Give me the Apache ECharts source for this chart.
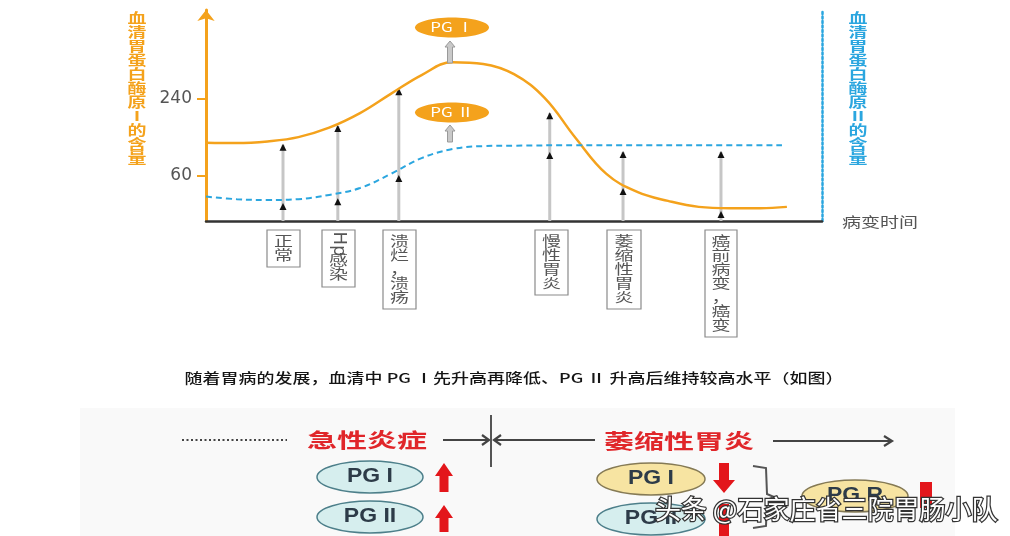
<!DOCTYPE html>
<html><head><meta charset="utf-8">
<script src="https://cdn.jsdelivr.net/npm/echarts@6/dist/echarts.min.js"></script>
<style>html,body{margin:0;padding:0;background:#fff}#c{width:1010px;height:536px}</style>
</head><body><div id="c"></div>
<script>
// ---- data ----
const stageNames = ['正常', 'Hp感染', '溃烂，溃疡', '慢性胃炎', '萎缩性胃炎', '癌前病变，癌变'];
const stageX = [12.5, 21.4, 31.3, 55.8, 67.7, 83.6];
const stemTop = [133, 177, 263, 207, 116, 116];
const stemLow = [-5, 6, 60, 114, 30, -24];
const pg1X = [0, 5, 10, 15, 20, 25, 30, 35, 40, 45, 50, 55, 60, 65, 70, 75, 80, 85, 90, 94.3];
const pg1Y = [138, 137, 141, 151, 173, 207, 252, 296, 326, 322, 298, 242, 149, 65, 23, 2, -12, -15, -15, -12];
const pg2X = [0, 5, 10, 15, 20, 25, 30, 35, 40, 45, 50, 60, 70, 80, 93.5];
const pg2Y = [12, 6, 4, 6, 16, 32, 65, 102, 123, 130, 131, 132, 132, 132, 132];
const yTicks = [60, 240];
const leftTitle = '血清胃蛋白酶原Ⅰ的含量';
const rightTitle = '血清胃蛋白酶原Ⅱ的含量';
const xTitle = '病变时间';
const caption = '随着胃病的发展，血清中 PG Ⅰ先升高再降低、PG Ⅱ 升高后维持较高水平（如图）';
const phaseNames = ['急性炎症', '萎缩性胃炎'];

// ---- layout / style ----
const Y_MIN = -45, Y_MAX = 448;
const ORANGE = '#f4a21c', BLUE = '#2ba6df';
const CJK = '"Noto Sans CJK SC", sans-serif';

const chart = echarts.init(document.getElementById('c'));

function vText(cx, top, str, fs, lh, sy, fill, extra) {
  const chars = Array.from(str).join('\n');
  return {
    type: 'text', x: cx, y: top, scaleY: sy, z: 100,
    style: Object.assign({ text: chars, fontSize: fs, lineHeight: lh, fontFamily: CJK, fill: fill,
      textAlign: 'center', textVerticalAlign: 'top' }, extra || {})
  };
}
function hText(x, y, str, fs, sy, fill, opts) {
  return {
    type: 'text', x: x, y: y, scaleY: sy, z: 100,
    style: Object.assign({ text: str, fontSize: fs, fontFamily: CJK, fill: fill,
      textAlign: 'center', textVerticalAlign: 'middle' }, opts || {})
  };
}
function ellipse(cx, cy, rx, ry, fill, stroke) {
  return { type: 'ellipse', z: 90, shape: { cx: cx, cy: cy, rx: rx, ry: ry },
    style: { fill: fill, stroke: stroke || null, lineWidth: stroke ? 1.5 : 0 } };
}
function grayUp(x, y1, y2) {
  return { type: 'polygon', z: 90, shape: { points: [[x, y1], [x - 5, y1 + 6], [x - 2.5, y1 + 6], [x - 2.5, y2], [x + 2.5, y2], [x + 2.5, y1 + 6], [x + 5, y1 + 6]] },
    style: { fill: '#c9c9c9', stroke: '#9a9a9a', lineWidth: 1 } };
}
function redUp(x, y1, y2) {
  return { type: 'polygon', z: 90, shape: { points: [[x, y1], [x - 9, y1 + 13], [x - 4.5, y1 + 13], [x - 4.5, y2], [x + 4.5, y2], [x + 4.5, y1 + 13], [x + 9, y1 + 13]] },
    style: { fill: '#e3161b' } };
}
function redDown(x, y1, y2) {
  return { type: 'polygon', z: 90, shape: { points: [[x - 5, y1], [x + 5, y1], [x + 5, y2 - 13], [x + 11, y2 - 13], [x, y2], [x - 11, y2 - 13], [x - 5, y2 - 13]] },
    style: { fill: '#e3161b' } };
}
function line(x1, y1, x2, y2, stroke, w, dash) {
  return { type: 'line', z: 90, shape: { x1: x1, y1: y1, x2: x2, y2: y2 },
    style: { stroke: stroke, lineWidth: w, lineDash: dash || null } };
}
function chevron(pts) {
  return { type: 'polyline', z: 90, shape: { points: pts }, style: { stroke: '#444', lineWidth: 2.2, fill: null } };
}

// stage boxes
const boxes = [
  { x: 267, y: 230, w: 33, h: 37 },
  { x: 322, y: 230, w: 33, h: 57 },
  { x: 383, y: 230, w: 33, h: 79 },
  { x: 535, y: 230, w: 33, h: 65 },
  { x: 607, y: 230, w: 34, h: 79 },
  { x: 705, y: 230, w: 32, h: 107 }
];
const graphics = [];
// bottom faint panel
graphics.push({ type: 'rect', z: 1, shape: { x: 80, y: 408, width: 875, height: 128 }, style: { fill: '#f9f9f9' } });

boxes.forEach((b, i) => {
  graphics.push({ type: 'rect', z: 90, shape: { x: b.x, y: b.y, width: b.w, height: b.h },
    style: { fill: '#fff', stroke: '#8a8a8a', lineWidth: 1.2 } });
  const cx = b.x + b.w / 2;
  const name = stageNames[i];
  if (name.startsWith('Hp')) {
    graphics.push({ type: 'text', x: cx, y: 244, rotation: -Math.PI / 2, z: 100,
      style: { text: 'Hp', fontSize: 18, fontFamily: '"DejaVu Sans", sans-serif', fill: '#555', textAlign: 'center', textVerticalAlign: 'middle' } });
    graphics.push(vText(cx, 253, name.slice(2), 19, 20, 0.7, '#555'));
  } else {
    graphics.push(vText(cx, b.y + 4, name, 19, 20, 0.7, '#555'));
  }
});

// axis titles
graphics.push(vText(137, 11, leftTitle, 19, 20, 0.7, ORANGE, { fontWeight: 'bold' }));
graphics.push(vText(858, 11, rightTitle, 19, 20, 0.7, BLUE, { fontWeight: 'bold' }));
graphics.push(hText(880, 222, xTitle, 19, 0.72, '#555'));

// PG bubbles in the chart
graphics.push(ellipse(452, 27.5, 37, 10, ORANGE));
graphics.push(hText(452, 27.5, 'PG Ⅰ', 17, 0.75, '#fff'));
graphics.push(grayUp(450, 41, 63));
graphics.push(ellipse(452, 112.5, 37, 10, ORANGE));
graphics.push(hText(452, 112.5, 'PG Ⅱ', 17, 0.75, '#fff'));
graphics.push(grayUp(450, 125, 142));

// caption
graphics.push(hText(514, 378, caption, 18, 0.74, '#151515', { fontWeight: 500 }));

// bottom diagram
graphics.push(line(182, 440, 287, 440, '#444', 2, [2, 2.5]));
graphics.push(hText(367, 440, phaseNames[0], 30, 0.68, '#e0262a', { fontWeight: 'bold' }));
graphics.push(line(443, 440, 489, 440, '#444', 2.2));
graphics.push(chevron([[482, 435], [489, 440], [482, 445]]));
graphics.push(line(491, 415, 491, 467, '#555', 2));
graphics.push(line(494, 440, 595, 440, '#444', 2.2));
graphics.push(chevron([[501, 435], [494, 440], [501, 445]]));
graphics.push(hText(679, 441, phaseNames[1], 30, 0.68, '#e0262a', { fontWeight: 'bold' }));
graphics.push(line(773, 441, 892, 441, '#444', 2.2));
graphics.push(chevron([[884, 436], [892, 441], [884, 446]]));

const pgFont = { fontWeight: 'bold', fontFamily: '"Liberation Sans", Arial, sans-serif' };
graphics.push(ellipse(370, 477, 53, 16, '#d6eeee', '#4d7f8a'));
graphics.push(hText(370, 477, 'PG I', 23, 0.85, '#2d3b48', pgFont));
graphics.push(ellipse(370, 517, 53, 16, '#d6eeee', '#4d7f8a'));
graphics.push(hText(370, 517, 'PG II', 23, 0.85, '#2d3b48', pgFont));
graphics.push(redUp(444, 463, 492));
graphics.push(redUp(444, 505, 532));

graphics.push(ellipse(651, 479, 54, 16, '#f7e4a2', '#857a55'));
graphics.push(hText(651, 479, 'PG I', 23, 0.85, '#2d3b48', pgFont));
graphics.push(ellipse(651, 519, 54, 16, '#d6eeee', '#4d7f8a'));
graphics.push(hText(651, 519, 'PG II', 23, 0.85, '#2d3b48', pgFont));
graphics.push(redDown(724, 463, 493));
graphics.push({ type: 'rect', z: 90, shape: { x: 719, y: 504, width: 10, height: 32 }, style: { fill: '#e3161b' } });
graphics.push({ type: 'polyline', z: 90, shape: { points: [[753, 466], [766, 468], [767, 494], [774, 497], [767, 500], [766, 526], [753, 528]] },
  style: { stroke: '#555', lineWidth: 2, fill: null } });
graphics.push(ellipse(855, 496, 53, 16, '#f7e4a2', '#857a55'));
graphics.push(hText(855, 496, 'PG R', 23, 0.85, '#2d3b48', pgFont));
graphics.push({ type: 'rect', z: 90, shape: { x: 920, y: 482, width: 12, height: 26 }, style: { fill: '#e3161b' } });

// watermark
graphics.push({ type: 'text', x: 655, y: 509, z: 120,
  style: { text: '头条 @石家庄省三院胃肠小队', fontSize: 26, fontFamily: CJK, fill: '#fff',
    stroke: '#333', lineWidth: 2.5, textAlign: 'left', textVerticalAlign: 'middle' } });

const option = {
  animation: false,
  backgroundColor: '#fff',
  grid: { left: 206, right: 188, top: 10, bottom: 315, containLabel: false, outerBoundsMode: 'none' },
  xAxis: {
    type: 'value', min: 0, max: 100,
    axisLine: { show: true, onZero: false, lineStyle: { color: '#333', width: 2.5 } },
    axisTick: { show: false }, axisLabel: { show: false }, splitLine: { show: false }
  },
  yAxis: [{
    type: 'value', min: Y_MIN, max: Y_MAX,
    axisLine: { show: true, onZero: false, symbol: ['none', 'arrow'], symbolSize: [13, 11], lineStyle: { color: ORANGE, width: 3 } },
    axisTick: { show: true, customValues: yTicks, length: 9, lineStyle: { color: ORANGE, width: 2 } },
    axisLabel: { show: true, customValues: yTicks, color: '#555', fontSize: 17, margin: 14, fontFamily: '"DejaVu Sans", sans-serif' },
    splitLine: { show: false }
  }, {
    type: 'value', min: Y_MIN, max: Y_MAX, position: 'right',
    axisLine: { show: true, onZero: false, lineStyle: { color: BLUE, width: 2.5, type: [2, 2.5] } },
    axisTick: { show: false }, axisLabel: { show: false }, splitLine: { show: false }
  }],
  series: [
    {
      type: 'custom', z: 1,
      data: stageX.map((x, i) => [x, stemTop[i], stemLow[i]]),
      renderItem: function (params, api) {
        const x = api.value(0);
        const pb = api.coord([x, Y_MIN]);
        const pt = api.coord([x, api.value(1)]);
        const pl = api.coord([x, api.value(2)]);
        const tri = p => ({ type: 'polygon', shape: { points: [[p[0], p[1] - 1], [p[0] - 3.5, p[1] + 6], [p[0] + 3.5, p[1] + 6]] }, style: { fill: '#111' } });
        return { type: 'group', children: [
          { type: 'line', shape: { x1: pb[0], y1: pb[1], x2: pt[0], y2: pt[1] }, style: { stroke: '#c6c6c6', lineWidth: 3 } },
          tri(pt), tri(pl)
        ] };
      }
    },
    {
      name: 'PG I', type: 'line', smooth: 0.4, showSymbol: false, z: 3,
      data: pg1X.map((x, i) => [x, pg1Y[i]]),
      lineStyle: { color: ORANGE, width: 2.5 }
    },
    {
      name: 'PG II', type: 'line', smooth: 0.4, showSymbol: false, z: 3,
      data: pg2X.map((x, i) => [x, pg2Y[i]]),
      lineStyle: { color: BLUE, width: 2, type: [6, 4] }
    }
  ],
  graphic: { elements: graphics }
};
chart.setOption(option);
</script>
</body></html>
